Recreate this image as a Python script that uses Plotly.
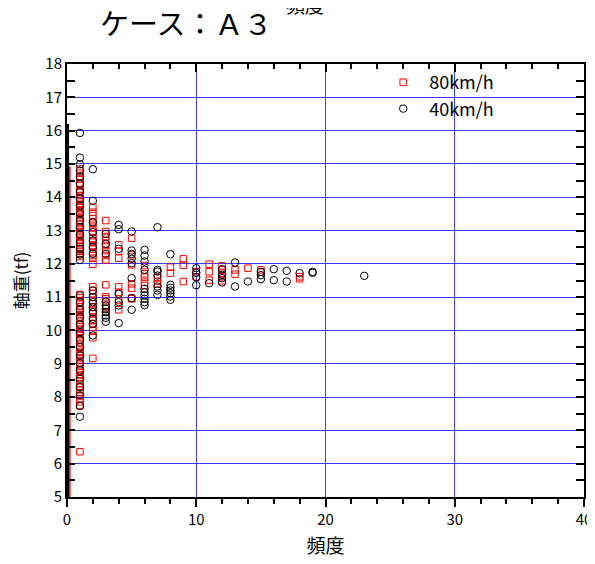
import plotly.graph_objects as go

# ---- data ----
# 80km/h (red squares)
x80 = ([1]*31 + [1]*40 + [2]*16 + [2]*16 + [3]*13 + [4]*7 + [5]*7 + [6]*5 + [7]*3 + [8]*2 +
       [9]*3 + [10]*2 + [11]*3 + [12]*5 + [13]*2 + [14]*1 + [15]*2 + [18]*2)
y80 = [14.85, 14.72, 14.61, 14.55, 14.43, 14.35, 14.22, 14.14, 14.05, 13.96, 13.88, 13.79, 13.71,
       13.62, 13.55, 13.47, 13.38, 13.30, 13.21, 13.12, 13.05, 12.96, 12.88, 12.80, 12.71, 12.63,
       12.55, 12.46, 12.38, 12.30, 12.22,
       11.08, 10.98, 10.90, 10.81, 10.72, 10.64, 10.55, 10.47, 10.38, 10.30, 10.21, 10.12, 10.04,
       9.95, 9.87, 9.78, 9.70, 9.61, 9.52, 9.44, 9.35, 9.27, 9.18, 9.10, 9.01, 8.92, 8.84, 8.75,
       8.66, 8.58, 8.49, 8.40, 8.31, 8.22, 8.13, 8.04, 7.95, 7.86, 7.75, 6.36,
       13.70, 13.55, 13.45, 13.35, 13.22, 13.10, 12.98, 12.88, 12.76, 12.65, 12.55, 12.44, 12.33,
       12.25, 12.17, 11.99,
       11.31, 11.20, 11.10, 11.00, 10.90, 10.80, 10.70, 10.60, 10.50, 10.40, 10.31, 10.20, 10.10,
       10.00, 9.78, 9.16,
       13.30, 12.97, 12.82, 12.70, 12.55, 12.40, 12.25, 12.12, 11.37, 11.01, 10.95, 10.70, 10.55,
       12.57, 12.38, 12.17, 11.31, 11.15, 10.90, 10.62,
       12.77, 12.27, 11.97, 11.40, 11.27, 10.97, 10.95,
       11.95, 11.70, 11.60, 11.45, 11.35,
       11.58, 11.48, 11.40,
       11.90, 11.72,
       12.15, 11.96, 11.47,
       11.76, 11.61,
       11.99, 11.76, 11.51,
       11.94, 11.82, 11.72, 11.61, 11.49,
       11.82, 11.69,
       11.87,
       11.82, 11.75,
       11.61, 11.55]

# 40km/h (black circles)
x40 = ([1]*33 + [2]*15 + [3]*10 + [4]*7 + [5]*8 + [6]*10 + [7]*7 + [8]*7 + [10]*4 + [11]*1 +
       [12]*4 + [13]*2 + [14]*1 + [15]*3 + [16]*2 + [17]*2 + [18]*1 + [19]*2 + [23]*1)
y40 = [15.93, 15.19, 14.99, 14.80, 14.62, 14.40, 14.18, 13.95, 13.75, 13.52, 13.30, 13.10, 12.88,
       12.65, 12.45, 12.28, 12.12, 11.05, 10.85, 10.62, 10.40, 10.18, 9.95, 9.72, 9.50, 9.25,
       9.02, 8.80, 8.55, 8.30, 8.05, 7.73, 7.41,
       14.84, 13.89, 13.25, 12.95, 12.70, 12.50, 12.30, 11.20, 11.00, 10.85, 10.70, 10.55, 10.35,
       10.20, 9.85,
       12.90, 12.60, 12.30, 10.86, 10.75, 10.65, 10.55, 10.45, 10.38, 10.26,
       13.17, 13.04, 12.45, 11.10, 10.85, 10.75, 10.22,
       12.97, 12.40, 12.30, 12.15, 12.02, 11.57, 10.97, 10.62,
       12.42, 12.25, 12.07, 11.82, 11.25, 11.15, 11.05, 10.95, 10.85, 10.76,
       13.10, 11.82, 11.77, 11.65, 11.32, 11.20, 11.07,
       12.29, 11.37, 11.28, 11.20, 11.12, 11.02, 10.92,
       11.87, 11.73, 11.60, 11.36,
       11.42,
       11.84, 11.67, 11.57, 11.44,
       12.04, 11.32,
       11.47,
       11.76, 11.66, 11.54,
       11.84, 11.51,
       11.79, 11.47,
       11.72,
       11.76, 11.73,
       11.64]

# dense points piled on the y axis (x = 0 column)
edge_black_x = [0.08, 0.08]
edge_black_y = [5.0, 16.2]
edge_red_x = [0.22, 0.22]
edge_red_y = [5.0, 14.92]

x_ticks = [0, 10, 20, 30, 40]
y_ticks = list(range(5, 19))

FONT = "Noto Sans CJK JP"
GRID = "#3a3aff"

fig = go.Figure()
fig.add_trace(go.Scatter(x=edge_black_x, y=edge_black_y, mode="lines",
                         line=dict(color="black", width=2), showlegend=False, hoverinfo="skip"))
fig.add_trace(go.Scatter(x=edge_red_x, y=edge_red_y, mode="lines",
                         line=dict(color="red", width=1.5), showlegend=False, hoverinfo="skip"))
fig.add_trace(go.Scatter(x=x80, y=y80, mode="markers", name="80km/h",
                         marker=dict(symbol="square-open", size=6.5, color="red",
                                     line=dict(width=1, color="red"))))
fig.add_trace(go.Scatter(x=x40, y=y40, mode="markers", name="40km/h",
                         marker=dict(symbol="circle-open", size=7.5, color="black",
                                     line=dict(width=1, color="black"))))
# invisible trace to anchor the top (mirror) x axis
fig.add_trace(go.Scatter(x=[0, 40], y=[5, 5], xaxis="x2", mode="markers",
                         marker=dict(opacity=0), showlegend=False, hoverinfo="skip"))

tickfont = dict(family=FONT, size=15, color="black")

fig.update_layout(
    xaxis=dict(range=[0, 40], tickvals=x_ticks, ticktext=[str(v) for v in x_ticks],
               showline=True, linecolor="black", linewidth=2, mirror=True,
               ticks="outside", ticklen=8, tickwidth=2, tickcolor="black",
               showgrid=True, gridcolor=GRID, gridwidth=1, zeroline=False,
               tickfont=tickfont, automargin=False,
               minor=dict(dtick=2, tick0=0, ticks="outside", ticklen=5, tickwidth=2,
                          tickcolor="black", showgrid=False),
               title=dict(text="頻度", font=dict(family=FONT, size=19, color="black"),
                          standoff=12)),
    xaxis2=dict(range=[0, 40], overlaying="x", side="top", anchor="y",
                showline=False, showgrid=False, zeroline=False, showticklabels=False,
                tickvals=x_ticks, ticks="inside", ticklen=8, tickwidth=2, tickcolor="black",
                minor=dict(dtick=2, tick0=0, ticks="inside", ticklen=5, tickwidth=2,
                           tickcolor="black", showgrid=False),
                automargin=False),
    yaxis=dict(range=[5, 18], tickvals=y_ticks, ticktext=[str(v) for v in y_ticks],
               showline=True, linecolor="black", linewidth=2, mirror="allticks",
               ticks="inside", ticklen=8, tickwidth=2, tickcolor="black",
               showgrid=True, gridcolor=GRID, gridwidth=1, zeroline=False,
               tickfont=tickfont, automargin=False,
               minor=dict(dtick=0.5, tick0=5, ticks="inside", ticklen=5, tickwidth=2,
                          tickcolor="black", showgrid=False),
               title=dict(text="軸重(tf)", font=dict(family=FONT, size=17, color="black"),
                          standoff=16)),
)

fig.add_annotation(text="ケース：Ａ３", xref="paper", yref="paper", x=0.06, y=1.097,
                   xanchor="left", yanchor="middle", showarrow=False,
                   font=dict(family=FONT, size=29, color="black"))
fig.add_annotation(text="頻度", xref="paper", yref="paper", x=0.46, y=1.137,
                   xanchor="center", yanchor="middle", showarrow=False,
                   font=dict(family=FONT, size=19, color="black"))

# the page body has an 8px default margin; the figure is sized to fill the rest
fig.update_layout(
    width=587, height=556,
    margin=dict(l=59, r=11, t=56, b=67),
    paper_bgcolor="white", plot_bgcolor="white",
    showlegend=True,
    legend=dict(x=0.6, y=1.0, xanchor="left", yanchor="top", bgcolor="rgba(0,0,0,0)",
                font=dict(family=FONT, size=18, color="black"), itemwidth=42,
                tracegroupgap=0),
)

fig.write_html("out.html")
